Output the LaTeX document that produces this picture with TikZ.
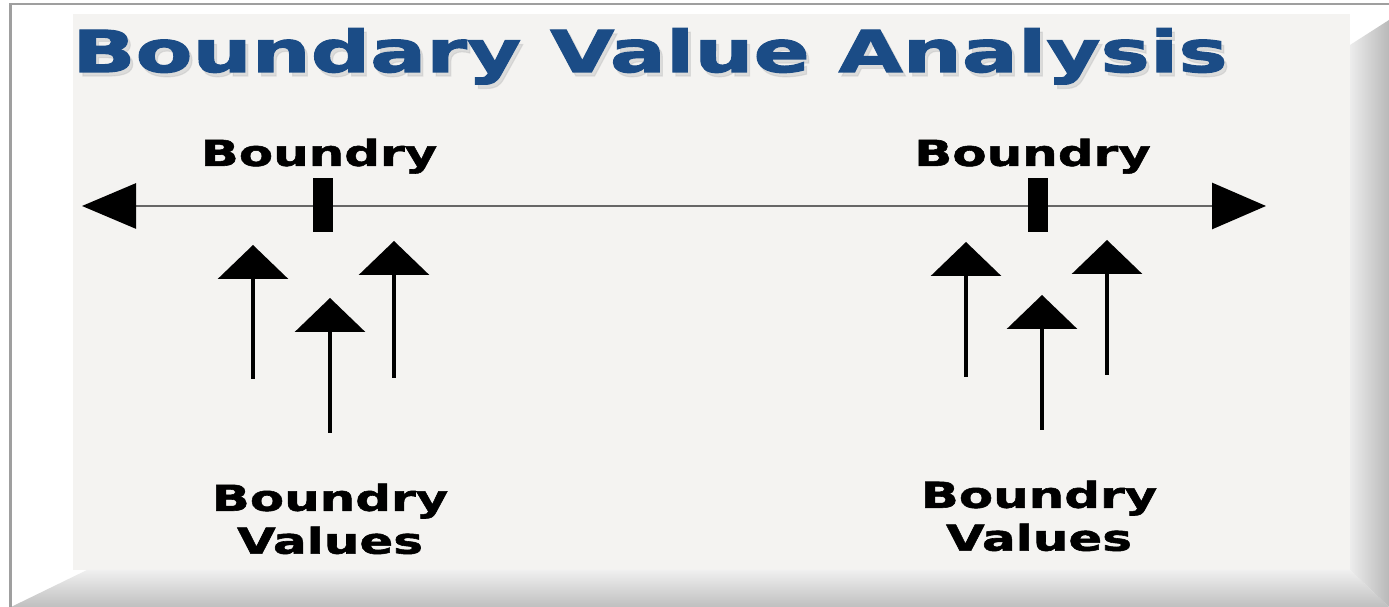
\documentclass[tikz,border=0pt]{standalone}
\usepackage{fontspec}
\usetikzlibrary{positioning,arrows.meta}
\newfontfamily\titlefont[FakeStretch=1.44,FakeBold=2]{DejaVu Sans}
\newfontfamily\lblfont[FakeStretch=1.40,FakeBold=1.6]{DejaVu Sans}
\definecolor{navy}{HTML}{1B4C86}
\definecolor{face}{HTML}{F4F3F1}
\definecolor{rule}{HTML}{666666}
\tikzset{ttl/.style={font=\titlefont\bfseries\fontsize{16.4}{19}\selectfont,text=navy,inner sep=0pt},
         lbl/.style={font=\lblfont\bfseries\fontsize{10.15}{12.2}\selectfont,align=center,inner sep=0pt},
         tick/.style={fill=black,minimum width=2mm,minimum height=5.4mm,inner sep=0pt},
         axis/.style={rule,line width=0.8pt,{Triangle[length=5.4mm,width=4.5mm,black]}-{Triangle[length=5.4mm,width=4.6mm,black]}},
         up/.style={black,line width=0.9pt,-{Triangle[length=3.4mm,width=7mm]}}}

\begin{document}
\begin{tikzpicture}
 \useasboundingbox (0,0) rectangle (13.89,6.07);
 % bevelled panel
 \fill[white] (0.11,0) rectangle (13.89,6.02);
 \fill[face] (0.73,0.37) rectangle (13.50,5.93);
 \shade[top color=gray!12,bottom color=gray!50] (0.11,0) -- (13.89,0) -- (13.50,0.37) -- (0.87,0.37) -- cycle;
 \shade[left color=gray!15,right color=gray!55] (13.50,0.37) -- (13.89,0) -- (13.89,5.87) -- (13.50,5.62) -- cycle;
 \draw[gray!75,line width=0.6pt] (0.105,0) -- (0.105,6.03) -- (13.89,6.03);
 % heading with a soft shadow
 \node[ttl,anchor=base,text=gray!45,opacity=0.5] (titleshadow) at (6.53,5.31) {Boundary Value Analysis};
 \node[ttl,anchor=base] (title) at (6.50,5.35) {Boundary Value Analysis};
 % number line
 \coordinate (axL) at (0.82,4.01);
 \coordinate (axR) at (12.66,4.01);
 \draw[axis] (axL) -- (axR);
 \node[tick] (lo) at (3.23,4.02) {};
 \node[tick] (hi) at (10.375,4.02) {};
 \node[lbl,above=0.3mm of lo,xshift=-0.4mm] (loname) {Boundry};
 \node[lbl,above=0.3mm of hi,xshift=-0.5mm] (hiname) {Boundry};
 % values on and around each boundary
 \coordinate (l1t) at (2.53,3.62); \coordinate (l1b) at (2.53,2.28);
 \coordinate (l2t) at (3.30,3.09); \coordinate (l2b) at (3.30,1.74);
 \coordinate (l3t) at (3.94,3.66); \coordinate (l3b) at (3.94,2.29);
 \coordinate (r1t) at (9.66,3.65); \coordinate (r1b) at (9.66,2.30);
 \coordinate (r2t) at (10.42,3.12); \coordinate (r2b) at (10.42,1.77);
 \coordinate (r3t) at (11.07,3.67); \coordinate (r3b) at (11.07,2.32);
 \draw[up] (l1b) -- (l1t); \draw[up] (l2b) -- (l2t); \draw[up] (l3b) -- (l3t);
 \draw[up] (r1b) -- (r1t); \draw[up] (r2b) -- (r2t); \draw[up] (r3b) -- (r3t);
 \node[lbl,below=5mm of l2b] (lovals) {Boundry\\Values};
 \node[lbl,below=5mm of r2b,xshift=-0.3mm] (hivals) {Boundry\\Values};
\end{tikzpicture}
\end{document}
